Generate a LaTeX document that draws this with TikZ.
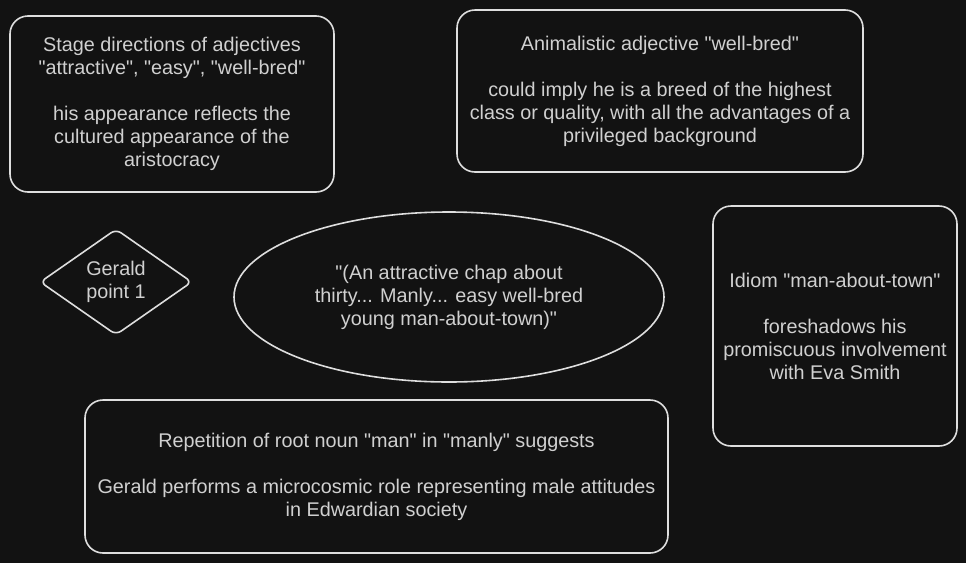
\documentclass[tikz,border=0pt]{standalone}
\usepackage{fontspec}
\newfontfamily\notefont{Liberation Sans}
\usetikzlibrary{shapes.geometric}
\definecolor{canvas}{HTML}{121212}
\definecolor{inkline}{HTML}{DEDEDE}
\definecolor{inktext}{HTML}{D0D0D0}

\begin{document}
\begin{tikzpicture}[
  x=1pt, y=-1pt,
  every node/.style={text=inktext, font=\notefont\fontsize{19.8}{23}\selectfont, align=center},
  note/.style={
    rectangle, rounded corners=18pt,
    draw=inkline, line width=1.6pt, inner sep=0pt
  },
  pointmark/.style={
    diamond, rounded corners=6pt, draw=inkline, line width=1.6pt,
    inner sep=0pt, aspect=1.43, minimum width=152pt, minimum height=106pt
  },
  quoteoval/.style={
    ellipse, draw=inkline, line width=1.6pt, inner sep=0pt,
    minimum width=430pt, minimum height=170pt
  },
]

\fill[canvas] (0,0) rectangle (966,563);
\useasboundingbox (0,0) rectangle (966,563);

% top row
\node[note, minimum width=324pt, minimum height=176pt] (stage) at (172,104)
  {Stage directions of adjectives\\
   "attractive", "easy", "well-bred"\\[23pt]
   his appearance reflects the\\ cultured appearance of the\\ aristocracy};
\node[note, minimum width=406pt, minimum height=162pt] (animal) at (660,91)
  {Animalistic adjective "well-bred"\\[23pt]
   could imply he is a breed of the highest\\
   class or quality, with all the advantages of a\\
   privileged background};

% middle row
\node[pointmark] (gerald) at (116,282) {Gerald\\ point 1};
\node[quoteoval] (quote) at (449,297)
  {"(An attractive chap about\\ thirty... Manly... easy well-bred\\ young man-about-town)"};
\node[note, minimum width=244pt, minimum height=240pt] (idiom) at (835,326)
  {Idiom "man-about-town"\\[23pt]
   foreshadows his\\ promiscuous involvement\\ with Eva Smith};

% bottom row
\node[note, minimum width=583pt, minimum height=153pt] (manly) at (376.5,476.5)
  {Repetition of root noun "man" in "manly" suggests\\[23pt]
   Gerald performs a microcosmic role representing male attitudes\\
   in Edwardian society};

\end{tikzpicture}
\end{document}
